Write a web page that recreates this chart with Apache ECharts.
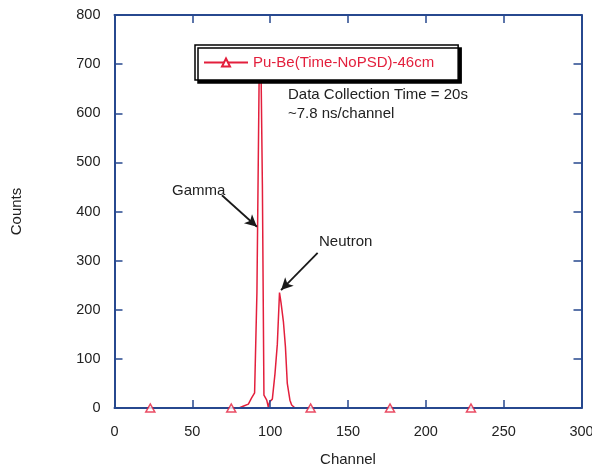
<!DOCTYPE html>
<html><head><meta charset="utf-8">
<script src="https://cdn.jsdelivr.net/npm/echarts@6/dist/echarts.min.js"></script>
<style>html,body{margin:0;padding:0;background:#fff}#c{width:592px;height:467px}</style>
</head><body><div id="c"></div>
<script>
const seriesName = 'Pu-Be(Time-NoPSD)-46cm';
const channels = [0, 23, 75, 80, 83, 86, 88, 90, 91.5, 93, 94, 95, 96, 97.8, 98.8, 99.7, 101.4, 103.1, 104.6, 106, 107, 108.5, 109.8, 111, 112.7, 113.8, 116, 126, 177, 229, 300];
const counts   = [0, 0, 0, 0, 4, 8, 20, 31, 236, 700, 725, 455, 26, 16, 2, 13, 18, 70, 130, 235, 214, 176, 125, 50, 16, 6, 0, 0, 0, 0, 0];
const markerChannels = [23, 75, 126, 177, 229];
const xTicks = [0, 50, 100, 150, 200, 250, 300];
const yTicks = [0, 100, 200, 300, 400, 500, 600, 700, 800];
const gammaArrow = [[69, 433], [91.5, 369]];
const neutronArrow = [[130.5, 316], [107, 240]];

const RED = '#e31f3c';
const BLUE = '#27488f';
const TXT = '#222';
const FONT = 'Liberation Sans, Arial, sans-serif';

const lineData = channels.map((c, i) => [c, counts[i]]);
const markerData = markerChannels.map(c => [c, counts[channels.indexOf(c)]]);

function tick() { return { show: true, inside: true, length: 8, lineStyle: { color: BLUE, width: 1.5 } }; }
function aline() { return { show: true, onZero: false, lineStyle: { color: BLUE, width: 2 } }; }

const chart = echarts.init(document.getElementById('c'));
chart.setOption({
  animation: false,
  grid: { left: 114.5, right: 10.5, top: 15, bottom: 59, containLabel: false, outerBoundsMode: 'none' },
  xAxis: [
    { type: 'value', position: 'bottom', min: 0, max: 300, interval: 50, splitLine: { show: false },
      axisLine: aline(), axisTick: tick(), z: 2,
      name: 'Channel', nameLocation: 'middle', nameGap: 44,
      nameTextStyle: { color: TXT, fontSize: 15, fontFamily: FONT },
      axisLabel: { color: TXT, fontSize: 14.5, fontFamily: FONT, margin: 16 } },
    { type: 'value', position: 'top', min: 0, max: 300, interval: 50, splitLine: { show: false },
      axisLine: aline(), axisTick: tick(), axisLabel: { show: false }, z: 2 }
  ],
  yAxis: [
    { type: 'value', position: 'left', min: 0, max: 800, interval: 100, splitLine: { show: false },
      axisLine: aline(), axisTick: tick(), z: 2,
      name: 'Counts', nameLocation: 'middle', nameGap: 90, nameRotate: 90,
      nameTextStyle: { color: TXT, fontSize: 15, fontFamily: FONT },
      axisLabel: { color: TXT, fontSize: 14.5, fontFamily: FONT, margin: 14 } },
    { type: 'value', position: 'right', min: 0, max: 800, interval: 100, splitLine: { show: false },
      axisLine: aline(), axisTick: tick(), axisLabel: { show: false }, z: 2 }
  ],
  legend: {
    data: [seriesName], left: 195, top: 45, orient: 'horizontal',
    padding: [10, 24, 10, 8], itemWidth: 44, itemHeight: 10, itemGap: 6,
    backgroundColor: '#fff', borderColor: '#000', borderWidth: 1.5, borderRadius: 0,
    shadowColor: '#000', shadowOffsetX: 3, shadowOffsetY: 3, shadowBlur: 0,
    textStyle: { color: RED, fontSize: 15, fontFamily: FONT }, z: 10
  },
  series: [
    { name: seriesName, type: 'line', data: lineData, z: 1,
      symbol: 'triangle', symbolSize: [9, 8], showSymbol: false,
      lineStyle: { color: RED, width: 1.5 },
      itemStyle: { color: '#fff', borderColor: RED, borderWidth: 1.5 } },
    { name: 'markers', type: 'scatter', data: markerData, z: 3,
      symbol: 'triangle', symbolSize: [9, 8],
      itemStyle: { color: '#fff', borderColor: RED, borderWidth: 1.5 },
      markLine: { silent: true, symbol: ['none', 'arrow'], symbolSize: [9, 12],
        label: { show: false },
        lineStyle: { color: '#1a1a1a', width: 1.8, type: 'solid' },
        data: [
          [{ coord: gammaArrow[0] }, { coord: gammaArrow[1] }],
          [{ coord: neutronArrow[0] }, { coord: neutronArrow[1] }]
        ] } }
  ],
  graphic: [
    { type: 'text', left: 172, top: 183, style: { text: 'Gamma', fill: TXT, font: '15px ' + FONT } },
    { type: 'text', left: 319, top: 234, style: { text: 'Neutron', fill: TXT, font: '15px ' + FONT } },
    { type: 'text', left: 288, top: 85, style: { text: 'Data Collection Time = 20s\n~7.8 ns/channel', fill: TXT, font: '15px ' + FONT, lineHeight: 19 } }
  ]
});
</script></body></html>
